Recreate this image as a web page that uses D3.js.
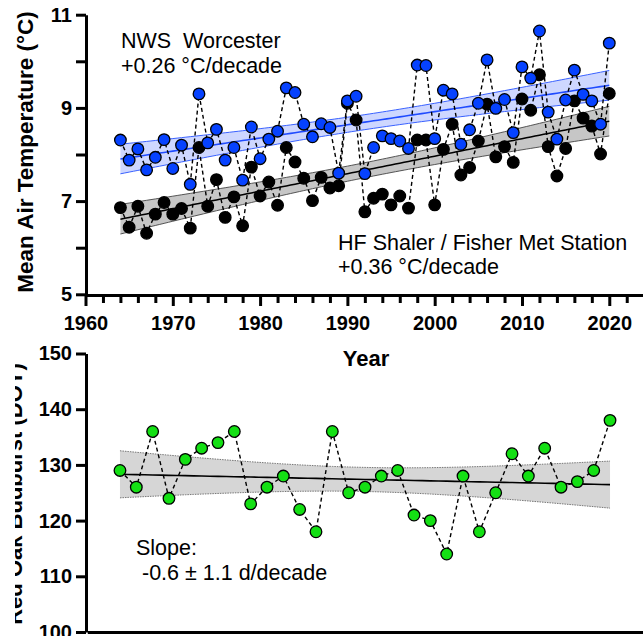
<!DOCTYPE html>
<html>
<head>
<meta charset="utf-8">
<script src="https://cdn.jsdelivr.net/npm/d3@7"></script>
<style>
  body { margin: 0; background: #fff; }
  svg { display: block; font-family: "Liberation Sans", Arial, sans-serif; }
</style>
</head>
<body>
<div id="chart"></div>
<script>
var w = 643;
var h = 636;

// ---- data ----
var years = d3.range(1964, 2021);
var worcester = [8.31, 7.88, 8.12, 7.67, 7.94, 8.32, 7.70, 8.20, 7.36, 9.30,
                 8.25, 8.54, 7.88, 8.15, 7.45, 8.59, 7.91, 8.33, 8.50, 9.43,
                 9.33, 8.65, 8.38, 8.66, 8.58, 7.60, 9.15, 9.25, 7.59, 8.15,
                 8.40, 8.34, 8.29, 8.13, 9.92, 9.91, 8.34, 9.38, 9.30, 8.22,
                 8.53, 9.10, 10.03, 8.99, 9.18, 8.47, 9.88, 9.64, 10.65, 8.91,
                 8.33, 9.17, 9.81, 9.29, 9.15, 8.65, 10.39];
var shaler = [6.86, 6.44, 6.89, 6.31, 6.72, 6.97, 6.72, 6.84, 6.42, 8.15,
              6.89, 7.46, 6.65, 7.09, 6.47, 7.73, 7.11, 7.41, 6.91, 8.15,
              7.84, 7.49, 7.01, 7.51, 7.28, 7.33, 9.10, 8.74, 6.77, 7.06,
              7.15, 6.92, 7.11, 6.85, 8.31, 8.31, 6.92, 8.11, 8.65, 7.56,
              7.72, 8.29, 9.08, 7.95, 8.17, 7.83, 9.19, 8.95, 9.71, 8.17,
              7.54, 8.13, 9.15, 8.78, 8.61, 8.01, 9.31];
var oakYears = d3.range(1990, 2021);
var oakDoy = [129, 126, 136, 124, 131, 133, 134, 136, 123, 126,
              128, 122, 118, 136, 125, 126, 128, 129, 121, 120,
              114, 128, 118, 125, 132, 128, 133, 126, 127, 129, 138];

var tempTicks = [5, 7, 9, 11];
var tempMinor = [6, 8, 10];
var yearTicks = [1960, 1970, 1980, 1990, 2000, 2010, 2020];
var yearMinor = [1962, 1964, 1966, 1968, 1972, 1974, 1976, 1978, 1982, 1984, 1986, 1988,
                 1992, 1994, 1996, 1998, 2002, 2004, 2006, 2008, 2012, 2014, 2016, 2018, 2022, 2024];
var doyTicks = [100, 110, 120, 130, 140, 150];

var svg = d3.select("#chart")
  .append("svg")
  .attr("width", w)
  .attr("height", h);

// scales
var x1 = d3.scaleLinear().domain([1960, 2024]).range([85.5, 644.2]);
var y1 = d3.scaleLinear().domain([5, 11]).range([294.3, 14.7]);
var x2 = d3.scaleLinear().domain([1988, 2022]).range([87.3, 642.7]);
var y2 = d3.scaleLinear().domain([100, 150]).range([632, 353.5]);

// least squares fit + 95% confidence band
function fit(xs, ys, t) {
  var n = xs.length;
  var mx = d3.mean(xs), my = d3.mean(ys);
  var sxx = d3.sum(xs, function(d) { return (d - mx) * (d - mx); });
  var sxy = d3.sum(xs, function(d, i) { return (d - mx) * (ys[i] - my); });
  var b = sxy / sxx, a = my - b * mx;
  var sse = d3.sum(xs, function(d, i) { var r = ys[i] - (a + b * d); return r * r; });
  var s = Math.sqrt(sse / (n - 2));
  var pts = [];
  for (var xv = xs[0]; xv <= xs[n - 1] + 1e-9; xv += 0.5) {
    var yh = a + b * xv;
    var se = s * Math.sqrt(1 / n + (xv - mx) * (xv - mx) / sxx);
    pts.push({x: xv, y: yh, lo: yh - t * se, hi: yh + t * se});
  }
  return pts;
}

function drawFit(pts, xs, ys, opt) {
  var area = d3.area()
    .x(function(d) { return xs(d.x); })
    .y0(function(d) { return ys(d.lo); })
    .y1(function(d) { return ys(d.hi); });
  svg.append("path").datum(pts)
    .attr("d", area)
    .attr("fill", opt.band)
    .attr("fill-opacity", opt.bandOpacity);
  ["lo", "hi"].forEach(function(k) {
    svg.append("path").datum(pts)
      .attr("d", d3.line().x(function(d) { return xs(d.x); }).y(function(d) { return ys(d[k]); }))
      .attr("fill", "none")
      .attr("stroke", opt.edge)
      .attr("stroke-width", opt.edgeWidth)
      .attr("stroke-dasharray", opt.edgeDash);
  });
  svg.append("path").datum(pts)
    .attr("d", d3.line().x(function(d) { return xs(d.x); }).y(function(d) { return ys(d.y); }))
    .attr("fill", "none")
    .attr("stroke", opt.line)
    .attr("stroke-width", 1.6);
}

function drawDashed(xv, yv, xs, ys) {
  var line = d3.line()
    .x(function(d, i) { return xs(xv[i]); })
    .y(function(d) { return ys(d); });
  svg.append("path").datum(yv)
    .attr("d", line)
    .attr("fill", "none")
    .attr("stroke", "#000")
    .attr("stroke-width", 1.4)
    .attr("stroke-dasharray", "4,3");
}

function drawDots(xv, yv, xs, ys, color) {
  svg.append("g").selectAll("circle")
    .data(yv)
    .enter()
    .append("circle")
    .attr("cx", function(d, i) { return xs(xv[i]); })
    .attr("cy", function(d) { return ys(d); })
    .attr("r", 5.8)
    .attr("fill", color)
    .attr("stroke", "#000")
    .attr("stroke-width", 1.3);
}

// ---- top panel ----
var shalerFit = fit(years, shaler, 2.004);
var worcFit = fit(years, worcester, 2.004);

drawFit(shalerFit, x1, y1, {band: "#a8a8a8", bandOpacity: 0.65, edge: "#444", edgeWidth: 0.9, edgeDash: null, line: "#000"});
drawFit(worcFit, x1, y1, {band: "#8aa0ff", bandOpacity: 0.42, edge: "#3a62ff", edgeWidth: 1, edgeDash: null, line: "#1f4bff"});

drawDashed(years, shaler, x1, y1);
drawDashed(years, worcester, x1, y1);
drawDots(years, shaler, x1, y1, "#000");
drawDots(years, worcester, x1, y1, "#0642ff");

// ---- bottom panel ----
var oakFit = fit(oakYears, oakDoy, 2.045);
drawFit(oakFit, x2, y2, {band: "#d6d6d6", bandOpacity: 1, edge: "#777", edgeWidth: 1, edgeDash: "1.5,1", line: "#000"});
drawDashed(oakYears, oakDoy, x2, y2);
drawDots(oakYears, oakDoy, x2, y2, "#14e014");

// ---- axes ----
function styleAxis(g, fontSize) {
  g.select(".domain").attr("stroke", "#000").attr("stroke-width", 3);
  g.selectAll(".tick line").attr("stroke", "#000").attr("stroke-width", 3);
  g.selectAll(".tick text")
    .attr("fill", "#000")
    .style("font-family", "'Liberation Sans', Arial, sans-serif")
    .style("font-size", fontSize + "px")
    .style("font-weight", "bold");
}

var gy1 = svg.append("g").attr("transform", "translate(86,0)")
  .call(d3.axisLeft(y1).tickValues(tempTicks).tickSize(10).tickPadding(4)
    .tickFormat(d3.format("d")).tickSizeOuter(0));
styleAxis(gy1, 20);
var gy1m = svg.append("g").attr("transform", "translate(86,0)")
  .call(d3.axisLeft(y1).tickValues(tempMinor).tickSize(10).tickFormat("").tickSizeOuter(0));
styleAxis(gy1m, 20);
gy1m.select(".domain").remove();

var gx1 = svg.append("g").attr("transform", "translate(0,295)")
  .call(d3.axisBottom(x1).tickValues(yearTicks).tickSize(11).tickPadding(10)
    .tickFormat(d3.format("d")).tickSizeOuter(0));
styleAxis(gx1, 20);
var gx1m = svg.append("g").attr("transform", "translate(0,295)")
  .call(d3.axisBottom(x1).tickValues(yearMinor).tickSize(8).tickFormat("").tickSizeOuter(0));
styleAxis(gx1m, 20);
gx1m.select(".domain").remove();

var gy2 = svg.append("g").attr("transform", "translate(86,0)")
  .call(d3.axisLeft(y2).tickValues(doyTicks).tickSize(10).tickPadding(4)
    .tickFormat(d3.format("d")).tickSizeOuter(0));
styleAxis(gy2, 20);

var gx2 = svg.append("g").attr("transform", "translate(0,632)")
  .call(d3.axisBottom(x2).tickValues([]).tickSizeOuter(0));
styleAxis(gx2, 20);

// ---- titles & annotations ----
svg.append("text")
  .attr("transform", "translate(33,152) rotate(-90)")
  .attr("text-anchor", "middle")
  .style("font-size", "22.5px")
  .style("font-weight", "bold")
  .text("Mean Air Temperature (°C)");

svg.append("text")
  .attr("x", 366).attr("y", 366)
  .attr("text-anchor", "middle")
  .style("font-size", "22px")
  .style("font-weight", "bold")
  .text("Year");

// lower y title is cut at the left edge in the original figure
svg.append("clipPath").attr("id", "leftcut")
  .append("rect").attr("x", 15).attr("y", 330).attr("width", 100).attr("height", 306);
svg.append("g")
  .attr("clip-path", "url(#leftcut)")
  .append("text")
  .attr("transform", "translate(22,494) rotate(-90)")
  .attr("text-anchor", "middle")
  .style("font-size", "22px")
  .style("font-weight", "bold")
  .text("Red Oak Budburst (DOY)");

var notes = [
  {x: 121, y: 48, t: "NWS  Worcester"},
  {x: 121, y: 72.5, t: "+0.26 °C/decade"},
  {x: 338, y: 250, t: "HF Shaler / Fisher Met Station"},
  {x: 338, y: 274, t: "+0.36 °C/decade"},
  {x: 136, y: 555, t: "Slope:"},
  {x: 136, y: 580, t: " -0.6 ± 1.1 d/decade"}
];
svg.selectAll("text.note")
  .data(notes)
  .enter()
  .append("text")
  .attr("class", "note")
  .attr("x", function(d) { return d.x; })
  .attr("y", function(d) { return d.y; })
  .style("font-size", "21.5px")
  .style("white-space", "pre")
  .text(function(d) { return d.t; });
</script>
</body>
</html>
